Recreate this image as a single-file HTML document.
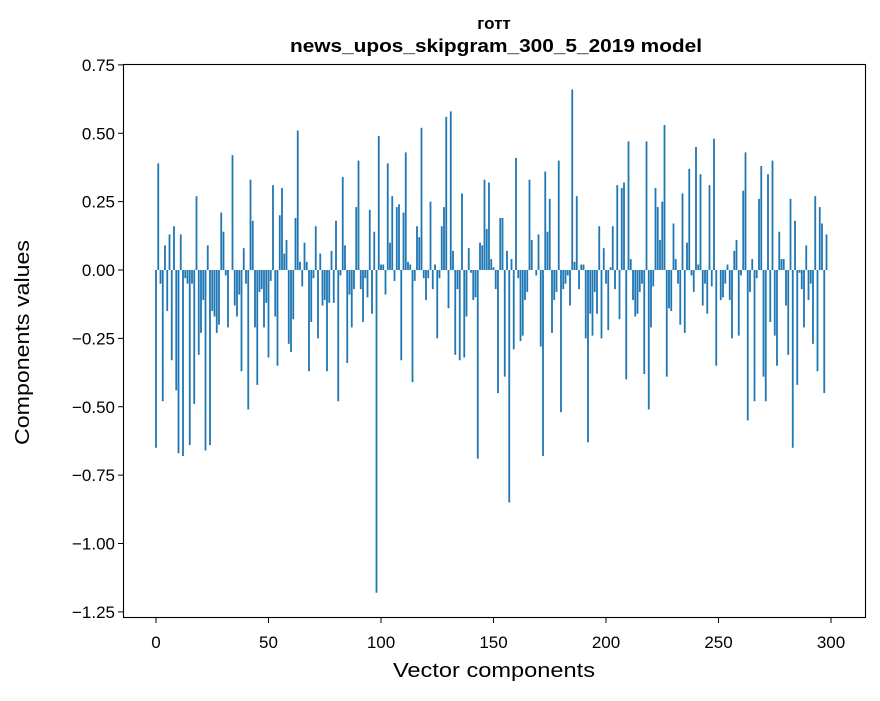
<!DOCTYPE html>
<html><head><meta charset="utf-8"><style>
body{margin:0;background:#fff;font-family:"Liberation Sans","DejaVu Sans",sans-serif}
svg text{font-family:"Liberation Sans","DejaVu Sans",sans-serif}
</style></head><body>
<svg id="chart" width="880" height="696" xmlns="http://www.w3.org/2000/svg">
<rect width="880" height="696" fill="#fff"/>
<text x="494" y="29" text-anchor="middle" font-size="17" font-weight="bold">готт</text>
<text x="290" y="52" textLength="412" lengthAdjust="spacingAndGlyphs" font-size="18" font-weight="bold">news_upos_skipgram_300_5_2019 model</text>
<g id="bars"></g>
<g id="axes"></g>
<rect x="123.5" y="64.5" width="742" height="553" fill="none" stroke="#000" stroke-width="1.1"/>
<text x="393" y="677" textLength="202" lengthAdjust="spacingAndGlyphs" font-size="20">Vector components</text>
<text transform="translate(29,445) rotate(-90)" textLength="205" lengthAdjust="spacingAndGlyphs" font-size="20">Components values</text>
</svg>
<script>
const values = [-0.65,0.39,-0.05,-0.48,0.09,-0.15,0.13,-0.33,0.16,-0.44,-0.67,0.13,-0.68,-0.03,-0.05,-0.64,-0.05,-0.49,0.27,-0.31,-0.23,-0.11,-0.66,0.09,-0.64,-0.15,-0.17,-0.23,-0.2,0.21,0.14,-0.02,-0.21,0.0,0.42,-0.13,-0.17,-0.09,-0.37,0.08,-0.05,-0.51,0.33,0.18,-0.21,-0.42,-0.08,
-0.07,-0.21,-0.12,-0.32,-0.04,0.31,-0.17,-0.35,0.2,0.3,0.06,0.11,-0.27,-0.3,-0.18,0.19,0.51,0.03,-0.06,0.1,0.03,-0.37,-0.19,-0.03,0.16,-0.25,0.06,-0.13,-0.11,-0.37,-0.12,0.07,-0.12,0.18,-0.48,-0.02,0.34,0.09,-0.34,-0.09,-0.21,-0.07,0.23,0.4,-0.07,-0.19,-0.03,-0.1,0.22,-0.16,0.14,-1.18,
0.49,0.02,0.02,-0.09,0.39,0.1,0.27,-0.04,0.23,0.24,-0.33,0.21,0.43,0.03,0.02,-0.41,-0.04,0.16,0.12,0.52,-0.03,-0.11,-0.03,0.25,-0.07,0.02,-0.25,-0.03,0.16,0.23,0.56,-0.14,0.58,0.07,-0.31,-0.07,-0.33,0.28,-0.32,-0.17,0.08,-0.01,-0.11,-0.1,-0.69,0.1,0.09,
0.33,0.15,0.32,0.04,0.01,-0.07,-0.45,0.19,0.19,-0.39,0.07,-0.85,0.04,-0.29,0.41,-0.03,-0.26,-0.24,-0.11,-0.08,0.33,0.11,0.0,-0.02,0.13,-0.28,-0.68,0.36,0.14,0.26,-0.23,-0.11,-0.08,0.40,-0.52,-0.07,-0.05,-0.02,-0.13,0.66,0.03,0.27,-0.07,0.02,0.02,-0.25,-0.63,-0.16,-0.24,-0.08,
-0.16,0.16,-0.25,0.08,-0.05,-0.22,0.01,0.16,-0.07,0.31,-0.18,0.3,0.32,-0.4,0.47,0.04,-0.11,-0.17,-0.16,-0.08,-0.05,-0.38,0.47,-0.51,-0.21,-0.06,0.3,0.23,0.11,0.25,0.53,-0.39,-0.14,-0.15,0.17,0.04,-0.05,-0.2,0.28,-0.23,0.1,0.37,-0.02,-0.08,0.45,0.02,0.35,-0.13,-0.05,-0.16,0.31,-0.06,
0.48,-0.35,0.0,-0.11,-0.1,-0.05,0.02,-0.11,-0.25,0.07,0.11,-0.24,-0.02,0.29,0.43,-0.55,-0.08,0.04,-0.48,-0.03,0.26,0.38,-0.39,-0.48,0.35,-0.19,0.40,-0.24,-0.35,0.14,0.04,0.04,-0.13,-0.31,0.26,-0.65,0.18,-0.42,-0.01,-0.07,-0.21,0.09,-0.11,-0.05,-0.27,0.27,-0.37,0.23,0.17,-0.45,0.13];
const xTicks = [0,50,100,150,200,250,300];
const yTicks = [0.75,0.5,0.25,0,-0.25,-0.5,-0.75,-1.0,-1.25];
const yTickLabels = ["0.75","0.50","0.25","0.00","\u22120.25","\u22120.50","\u22120.75","\u22121.00","\u22121.25"];

const NS="http://www.w3.org/2000/svg";
const X0=156, XS=2.25, Y0=270, YS=273.5;
function xScale(i){return X0+i*XS;}
function yScale(v){return Y0-v*YS;}
const bars=document.getElementById('bars');
values.forEach((v,i)=>{
  const r=document.createElementNS(NS,'rect');
  
  
  const w=0.8*XS;
  r.setAttribute('x',xScale(i)-w/2);
  r.setAttribute('width',w);
  const y1=yScale(Math.max(v,0)), y2=yScale(Math.min(v,0));
  r.setAttribute('y',y1);
  r.setAttribute('height',Math.max(y2-y1,0.01));
  r.setAttribute('fill','#1f77b4');
  bars.appendChild(r);
});
const axes=document.getElementById('axes');
xTicks.forEach(t=>{
  const x=xScale(t);
  const l=document.createElementNS(NS,'line');
  
  
  l.setAttribute('x1',x);l.setAttribute('x2',x);l.setAttribute('y1',618);l.setAttribute('y2',623);
  l.setAttribute('stroke','#000');
  axes.appendChild(l);
  const tx=document.createElementNS(NS,'text');
  
  
  tx.setAttribute('x',x);tx.setAttribute('y',648);tx.setAttribute('text-anchor','middle');tx.setAttribute('font-size','17');
  tx.textContent=t;
  axes.appendChild(tx);
});
yTicks.forEach((t,k)=>{
  const y=yScale(t);
  const l=document.createElementNS(NS,'line');
  
  
  l.setAttribute('x1',118);l.setAttribute('x2',123);l.setAttribute('y1',y);l.setAttribute('y2',y);
  l.setAttribute('stroke','#000');
  axes.appendChild(l);
  const tx=document.createElementNS(NS,'text');
  
  
  tx.setAttribute('x',115);tx.setAttribute('y',y+6);tx.setAttribute('text-anchor','end');tx.setAttribute('font-size','17');
  tx.textContent=yTickLabels[k];
  axes.appendChild(tx);
});
</script>
</body></html>
